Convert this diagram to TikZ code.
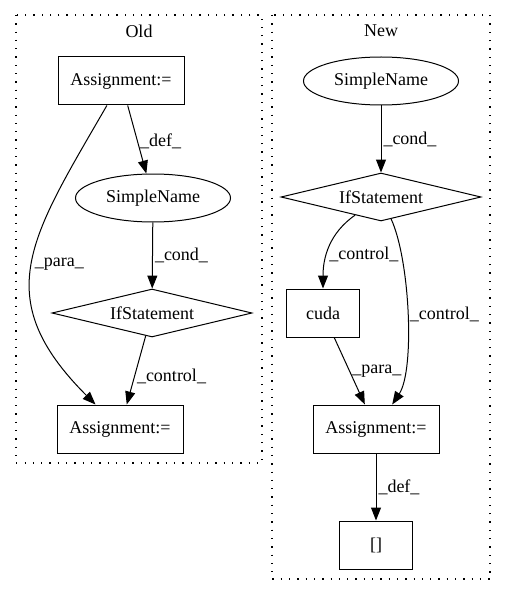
\documentclass[tikz,border=0pt]{standalone}
\usepackage{fontspec}
\setmainfont{Liberation Serif}
\usetikzlibrary{arrows.meta}
\usetikzlibrary{shapes}

\begin{document}
\begin{tikzpicture}[x=1pt, y=1pt, line width=1pt, font=\fontsize{18}{21}\selectfont,
        box_style/.style={rectangle,draw=black,minimum height=48pt,inner sep=0pt},
        name_style/.style={ellipse,draw=black,minimum width=155pt,minimum height=48pt,inner sep=0pt},
        if_style/.style={diamond,draw=black,aspect=4,minimum width=200pt,minimum height=48pt,inner sep=0pt},
        cluster_style/.style={draw=black,line width=1.3pt,dash pattern=on 1.3pt off 7pt},
        edge_style/.style={draw=black,line width=1pt,-{Triangle[length=13pt,width=10pt]}},
        label_style/.style={right,inner sep=2pt}]

        \useasboundingbox (0,0) rectangle (507,-596);

        % clusters
        \draw [cluster_style] (16,-15) rectangle (262,-463);
        \draw [cluster_style] (272,-15) rectangle (490,-579);
        \node (t1) at (139,-31) {Old};
        \node (t2) at (381,-31) {New};

        % old
        \node [box_style,minimum width=126pt](a1) at (121,-81) {Assignment:=};
        \node [name_style](s1) at (153,-198) {SimpleName};
        \node [if_style](i1) at (152,-313) {IfStatement};
        \node [box_style,minimum width=126pt](a2) at (120,-429) {Assignment:=};

        % new
        \node [name_style](s2) at (381,-81) {SimpleName};
        \node [if_style](i2) at (381,-197) {IfStatement};
        \node [box_style,minimum width=73pt](c2) at (323,-313) {cuda};
        \node [box_style,minimum width=126pt](a3) at (376,-429) {Assignment:=};
        \node [box_style,minimum width=73pt](b2) at (376,-545) {[]};

        \draw [edge_style] (a1) edge node[label_style,pos=0.53]{\_def\_} (s1);
        \draw [edge_style] (a1) edge[out=240,in=135,looseness=1.3] node[label_style,pos=0.5]{\_para\_} (a2);
        \draw [edge_style] (s1) edge node[label_style,pos=0.5]{\_cond\_} (i1);
        \draw [edge_style] (i1) edge node[label_style,pos=0.59]{\_control\_} (a2);

        \draw [edge_style] (s2) edge node[label_style,pos=0.5]{\_cond\_} (i2);
        \draw [edge_style] (i2) edge[out=215,in=90] node[label_style,pos=0.6]{\_control\_} (c2);
        \draw [edge_style] (i2) .. controls (410,-260) and (415,-370) .. node[label_style,pos=0.5]{\_control\_} (a3);
        \draw [edge_style] (c2) edge node[label_style,pos=0.51]{\_para\_} (a3);
        \draw [edge_style] (a3) edge node[label_style,pos=0.5]{\_def\_} (b2);
\end{tikzpicture}
\end{document}
